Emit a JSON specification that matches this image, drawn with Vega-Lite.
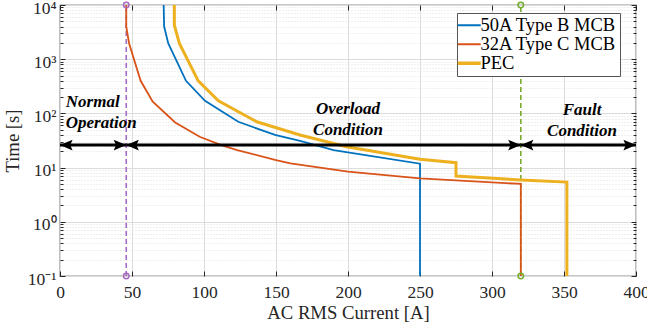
{
  "$schema": "https://vega.github.io/schema/vega-lite/v6.json",
  "width": 576,
  "height": 271,
  "autosize": {"type": "none"},
  "padding": {"left": 60, "top": 5, "right": 11, "bottom": 50},
  "background": "white",
  "config": {"view": {"stroke": "#262626", "strokeWidth": 1.2}, "font": "Liberation Serif"},
  "datasets": {
    "curves": [
      {"series": "50A Type B MCB", "i": 0, "x": 72, "y": 10000},
      {"series": "50A Type B MCB", "i": 1, "x": 72.3, "y": 4000},
      {"series": "50A Type B MCB", "i": 2, "x": 75.2, "y": 1950},
      {"series": "50A Type B MCB", "i": 3, "x": 87.5, "y": 400},
      {"series": "50A Type B MCB", "i": 4, "x": 100.7, "y": 171},
      {"series": "50A Type B MCB", "i": 5, "x": 123.8, "y": 70},
      {"series": "50A Type B MCB", "i": 6, "x": 149.3, "y": 40},
      {"series": "50A Type B MCB", "i": 7, "x": 166.7, "y": 31},
      {"series": "50A Type B MCB", "i": 8, "x": 190, "y": 21},
      {"series": "50A Type B MCB", "i": 9, "x": 250, "y": 11.8},
      {"series": "50A Type B MCB", "i": 10, "x": 250, "y": 0.1},
      {"series": "32A Type C MCB", "i": 0, "x": 46, "y": 10000},
      {"series": "32A Type C MCB", "i": 1, "x": 46, "y": 4000},
      {"series": "32A Type C MCB", "i": 2, "x": 48, "y": 1950},
      {"series": "32A Type C MCB", "i": 3, "x": 56, "y": 400},
      {"series": "32A Type C MCB", "i": 4, "x": 64.4, "y": 164},
      {"series": "32A Type C MCB", "i": 5, "x": 80, "y": 68},
      {"series": "32A Type C MCB", "i": 6, "x": 97, "y": 37},
      {"series": "32A Type C MCB", "i": 7, "x": 112, "y": 26},
      {"series": "32A Type C MCB", "i": 8, "x": 123, "y": 21},
      {"series": "32A Type C MCB", "i": 9, "x": 150, "y": 13.8},
      {"series": "32A Type C MCB", "i": 10, "x": 160, "y": 12},
      {"series": "32A Type C MCB", "i": 11, "x": 200, "y": 8.4},
      {"series": "32A Type C MCB", "i": 12, "x": 250, "y": 6.3},
      {"series": "32A Type C MCB", "i": 13, "x": 320, "y": 5.0},
      {"series": "32A Type C MCB", "i": 14, "x": 320, "y": 0.1},
      {"series": "PEC", "i": 0, "x": 79.4, "y": 10000},
      {"series": "PEC", "i": 1, "x": 79.4, "y": 4270},
      {"series": "PEC", "i": 2, "x": 82.9, "y": 1950},
      {"series": "PEC", "i": 3, "x": 96, "y": 398},
      {"series": "PEC", "i": 4, "x": 110, "y": 171},
      {"series": "PEC", "i": 5, "x": 136.6, "y": 70},
      {"series": "PEC", "i": 6, "x": 166.7, "y": 40},
      {"series": "PEC", "i": 7, "x": 199, "y": 24.3},
      {"series": "PEC", "i": 8, "x": 250, "y": 14.2},
      {"series": "PEC", "i": 9, "x": 275, "y": 12.3},
      {"series": "PEC", "i": 10, "x": 275, "y": 7.0},
      {"series": "PEC", "i": 11, "x": 320, "y": 5.9},
      {"series": "PEC", "i": 12, "x": 352, "y": 5.4},
      {"series": "PEC", "i": 13, "x": 352, "y": 0.1}
    ],
    "markers": [
      {"name": "normal", "i": 0, "x": 46, "y": 0.1},
      {"name": "normal", "i": 1, "x": 46, "y": 10000},
      {"name": "fault", "i": 0, "x": 320, "y": 0.1},
      {"name": "fault", "i": 1, "x": 320, "y": 10000}
    ],
    "arrows": [
      {"x": 0, "x2": 46, "y": 26},
      {"x": 46, "x2": 320, "y": 26},
      {"x": 320, "x2": 400, "y": 26}
    ],
    "heads": [
      {"x": 0, "y": 26, "dir": "left"},
      {"x": 46, "y": 26, "dir": "right"},
      {"x": 46, "y": 26, "dir": "left"},
      {"x": 320, "y": 26, "dir": "right"},
      {"x": 320, "y": 26, "dir": "left"},
      {"x": 400, "y": 26, "dir": "right"}
    ],
    "labelsLeft": [
      {"label": "Normal\nOperation", "x": 4, "y": 164}
    ],
    "labelsCenter": [
      {"label": "Overload\nCondition", "x": 200, "y": 119},
      {"label": "Fault\nCondition", "x": 362.5, "y": 116}
    ]
  },
  "resolve": {"axis": {"x": "independent", "y": "independent"}},
  "layer": [
    {
      "data": {"name": "markers"},
      "mark": {"type": "line", "strokeDash": [5, 3], "strokeWidth": 1.6},
      "encoding": {
        "x": {"field": "x", "type": "quantitative",
          "scale": {"domain": [0, 400], "nice": false, "zero": false},
          "axis": {"orient": "top", "values": [0, 50, 100, 150, 200, 250, 300, 350, 400], "labels": false, "grid": false, "domain": false, "tickSize": -5, "tickColor": "#262626", "title": null}},
        "y": {"field": "y", "type": "quantitative",
          "scale": {"type": "log", "domain": [0.1, 10000], "nice": false},
          "axis": {"orient": "right", "values": [0.1,0.2,0.3,0.4,0.5,0.6,0.7,0.8,0.9,1,2,3,4,5,6,7,8,9,10,20,30,40,50,60,70,80,90,100,200,300,400,500,600,700,800,900,1000,2000,3000,4000,5000,6000,7000,8000,9000,10000],
            "labels": false, "grid": false, "domain": false, "tickColor": "#262626", "title": null,
            "tickSize": {"condition": {"test": "datum.value==0.1||datum.value==1||datum.value==10||datum.value==100||datum.value==1000||datum.value==10000", "value": -5}, "value": -3}}},
        "detail": {"field": "name"},
        "order": {"field": "i"},
        "stroke": {"condition": {"test": "datum.name === 'normal'", "value": "#A66BBE"}, "value": "#77AC30"}
      }
    },
    {
      "data": {"name": "curves"},
      "transform": [{"filter": "datum.series !== 'PEC'"}],
      "mark": {"type": "line", "strokeWidth": 1.8},
      "encoding": {
        "x": {"field": "x", "type": "quantitative",
          "axis": {"orient": "bottom", "values": [0, 50, 100, 150, 200, 250, 300, 350, 400], "grid": true, "gridColor": "#dcdcdc", "domain": false, "tickSize": -5, "tickColor": "#262626",
            "labelFont": "Liberation Serif", "labelFontSize": 17.5, "labelColor": "#262626", "labelPadding": 12, "labelFlush": false, "labelOverlap": false,
            "title": "AC RMS Current [A]", "titleFont": "Liberation Serif", "titleFontSize": 18.7, "titleFontWeight": "normal", "titleColor": "#262626", "titlePadding": 3}},
        "y": {"field": "y", "type": "quantitative",
          "axis": {"orient": "left", "values": [0.1,0.2,0.3,0.4,0.5,0.6,0.7,0.8,0.9,1,2,3,4,5,6,7,8,9,10,20,30,40,50,60,70,80,90,100,200,300,400,500,600,700,800,900,1000,2000,3000,4000,5000,6000,7000,8000,9000,10000],
            "labelExpr": "datum.value==10000?'10⁴':datum.value==1000?'10³':datum.value==100?'10²':datum.value==10?'10¹':datum.value==1?'10⁰':datum.value==0.1?'10⁻¹':''",
            "grid": true,
            "gridColor": {"condition": {"test": "datum.value==0.1||datum.value==1||datum.value==10||datum.value==100||datum.value==1000||datum.value==10000", "value": "#dcdcdc"}, "value": "#e0e0e0"},
            "gridDash": {"condition": {"test": "datum.value==0.1||datum.value==1||datum.value==10||datum.value==100||datum.value==1000||datum.value==10000", "value": []}, "value": [1, 2]},
            "tickSize": {"condition": {"test": "datum.value==0.1||datum.value==1||datum.value==10||datum.value==100||datum.value==1000||datum.value==10000", "value": -5}, "value": -3},
            "tickColor": "#262626", "domain": false,
            "labelFont": "Liberation Serif", "labelFontSize": 17.5, "labelColor": "#262626", "labelPadding": 9, "labelOffset": 3, "labelOverlap": false, "labelBound": false, "labelFlush": false,
            "title": "Time [s]", "titleFont": "Liberation Serif", "titleFontSize": 18.7, "titleFontWeight": "normal", "titleColor": "#262626", "titlePadding": 5}},
        "color": {"field": "series", "type": "nominal",
          "scale": {"domain": ["50A Type B MCB", "32A Type C MCB", "PEC"], "range": ["#0072BD", "#D95319", "#EDB120"]},
          "legend": {"orient": "none", "legendX": 397, "legendY": 8, "title": null, "symbolType": "stroke", "symbolSize": 529,
            "labelFont": "Liberation Serif", "labelFontSize": 18.5, "labelColor": "#000000", "labelOffset": 2,
            "fillColor": "white", "strokeColor": "#555555", "padding": 3, "rowPadding": 0,
            "encode": {"symbols": {"update": {"strokeWidth": {"signal": "datum.value === 'PEC' ? 3.5 : 2"}}}}}},
        "order": {"field": "i"}
      }
    },
    {
      "data": {"name": "curves"},
      "transform": [{"filter": "datum.series === 'PEC'"}],
      "mark": {"type": "line", "strokeWidth": 3},
      "encoding": {
        "x": {"field": "x", "type": "quantitative", "axis": null},
        "y": {"field": "y", "type": "quantitative", "axis": null},
        "color": {"field": "series", "type": "nominal", "legend": null},
        "order": {"field": "i"}
      }
    },
    {
      "data": {"name": "arrows"},
      "mark": {"type": "rule", "strokeWidth": 3, "color": "black"},
      "encoding": {
        "x": {"field": "x", "type": "quantitative", "axis": null},
        "x2": {"field": "x2"},
        "y": {"field": "y", "type": "quantitative", "axis": null}
      }
    },
    {
      "data": {"name": "heads"},
      "mark": {"type": "point", "filled": true, "color": "black", "size": 144, "opacity": 1},
      "encoding": {
        "x": {"field": "x", "type": "quantitative", "axis": null},
        "y": {"field": "y", "type": "quantitative", "axis": null},
        "shape": {"field": "dir", "type": "nominal",
          "scale": {"domain": ["left", "right"], "range": ["M0,0L2.1,-0.9L1.7,0L2.1,0.9Z", "M0,0L-2.1,-0.9L-1.7,0L-2.1,0.9Z"]},
          "legend": null}
      }
    },
    {
      "data": {"name": "markers"},
      "mark": {"type": "point", "filled": false, "size": 30, "strokeWidth": 1.5, "opacity": 1},
      "encoding": {
        "x": {"field": "x", "type": "quantitative", "axis": null},
        "y": {"field": "y", "type": "quantitative", "axis": null},
        "stroke": {"condition": {"test": "datum.name === 'normal'", "value": "#A66BBE"}, "value": "#77AC30"}
      }
    },
    {
      "data": {"name": "labelsLeft"},
      "mark": {"type": "text", "font": "Liberation Serif", "fontSize": 17, "fontWeight": "bold", "fontStyle": "italic", "align": "left", "baseline": "middle", "lineBreak": "\n", "lineHeight": 21, "color": "black"},
      "encoding": {
        "x": {"field": "x", "type": "quantitative", "axis": null},
        "y": {"field": "y", "type": "quantitative", "axis": null},
        "text": {"field": "label"}
      }
    },
    {
      "data": {"name": "labelsCenter"},
      "mark": {"type": "text", "font": "Liberation Serif", "fontSize": 17, "fontWeight": "bold", "fontStyle": "italic", "align": "center", "baseline": "middle", "lineBreak": "\n", "lineHeight": 21, "color": "black"},
      "encoding": {
        "x": {"field": "x", "type": "quantitative", "axis": null},
        "y": {"field": "y", "type": "quantitative", "axis": null},
        "text": {"field": "label"}
      }
    }
  ]
}
